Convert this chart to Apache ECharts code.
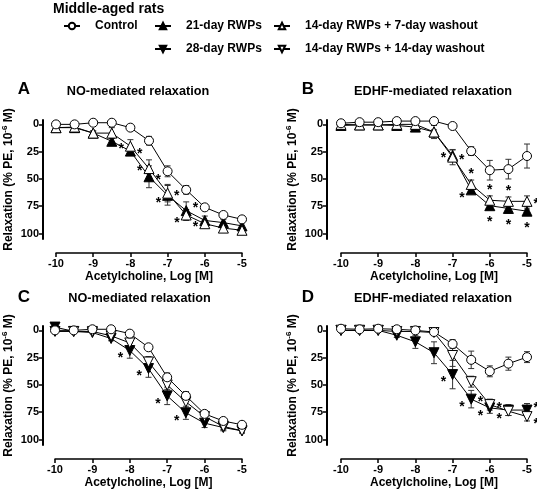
<!DOCTYPE html>
<html><head><meta charset="utf-8">
<script src="https://cdn.jsdelivr.net/npm/echarts@6/dist/echarts.min.js"></script>
<style>html,body{margin:0;padding:0;background:#fff}#c{width:537px;height:493px}</style>
</head><body><div id="c"></div>
<script>
// ---------- DATA ----------
const conc = [-10, -9.5, -9, -8.5, -8, -7.5, -7, -6.5, -6, -5.5, -5];
const yTickValues = [0, 25, 50, 75, 100];

// Panel A: NO-mediated (21-day RWPs, 14-day + 7-day washout)
const A_control     = [0, 0, -1.5, -1.5, 3, 15, 43, 60, 76, 83, 87];
const A_control_err = [1, 1, 1, 1, 2, 4, 5, 4, 2, 2, 2];
const A_d21         = [3, 3, 8, 15.5, 24.5, 48, 65, 79, 88, 90, 93];
const A_d21_err     = [1, 1, 2, 3, 4, 10, 9, 8, 4, 3, 3];
const A_d21_star    = ['', '', '', '', 'r', 'r', 'lb', 'rt', '', '', ''];
const A_w7          = [3, 2.5, 8, 8, 20, 40.5, 63, 83, 91, 95, 97];
const A_w7_err      = [1, 1, 2, 5, 6, 8, 8, 5, 3, 2, 2];
const A_w7_star     = ['', '', '', '', 'l', 'l', 'r', 'lb', 'l', '', ''];

// Panel B: EDHF-mediated (21-day RWPs, 14-day + 7-day washout)
const B_control     = [-1, -2, -2, -3, -3, -3, 1.5, 24.5, 42, 41, 29];
const B_control_err = [1, 1, 1, 1, 1, 1, 2, 4, 9, 9, 11];
const B_d21         = [1, 0.5, 0.5, 1, 2.5, 7, 28.5, 60, 74.5, 77, 79.5];
const B_d21_err     = [1, 1, 1, 1, 1, 2, 5, 3, 3, 2, 2];
const B_d21_star    = ['', '', '', '', '', '', 'l', 'lb', 'b', 'b', 'b'];
const B_w7          = [0, 0.5, 0.5, 0, 0, 7, 30, 55, 69.5, 70.5, 70.5];
const B_w7_err      = [1, 1, 1, 1, 2, 6, 7, 4, 4, 4, 5];
const B_w7_star     = ['', '', '', '', '', '', 'r', 't', 't', 't', 'r'];

// Panel C: NO-mediated (28-day RWPs, 14-day + 14-day washout)
const C_control     = [0, 0, -1, -1, 3, 15.5, 43, 60, 76.5, 83, 86.5];
const C_control_err = [1, 1, 1, 1, 1, 2, 4, 4, 2, 2, 2];
const C_d28         = [-3, 1, 2, 7.5, 18.5, 35, 60, 75.5, 85, 89, 92];
const C_d28_err     = [2, 1, 1, 2, 7, 8, 8, 6, 4, 3, 2];
const C_d28_star    = ['', '', '', '', 'lb', 'lb', 'lb', 'lb', '', '', ''];
const C_w14         = [1, 1, 1, 5, 11.5, 29, 50, 65.5, 79, 88, 92];
const C_w14_err     = [1, 1, 1, 1, 4, 5, 4, 6, 3, 3, 2];
const C_w14_star    = ['', '', '', '', '', '', '', '', '', '', ''];

// Panel D: EDHF-mediated (28-day RWPs, 14-day + 14-day washout)
const D_control     = [-1.5, -1, -1.5, -1, 0, 1.5, 12.5, 27, 37.5, 30.5, 24.5];
const D_control_err = [1, 1, 1, 1, 1, 1, 4, 8, 5, 6, 5];
const D_d28         = [0, 0, 0, 4.5, 10.5, 20.5, 40.5, 63, 71, 73, 73];
const D_d28_err     = [1, 1, 1, 2, 6, 10, 13, 8, 5, 5, 6];
const D_d28_star    = ['', '', '', '', '', '', 'lb', 'lb', 'lb', 'lt', 'rt'];
const D_w14         = [0, 0, 0, 1, 1, 2, 23, 47, 68, 74, 79];
const D_w14_err     = [1, 1, 1, 1, 1, 2, 10, 5, 5, 4, 4];
const D_w14_star    = ['', '', '', '', '', '', '', '', 'lt', 'lb', 'rb'];

const panelLetters = ['A', 'B', 'C', 'D'];
const panelTitles = ['NO-mediated relaxation', 'EDHF-mediated relaxation', 'NO-mediated relaxation', 'EDHF-mediated relaxation'];
const legendTitle = 'Middle-aged rats';
const xName = 'Acetylcholine, Log [M]';

// ---------- STYLE / LAYOUT ----------
const FONT = '"Liberation Sans", Arial, Helvetica, sans-serif';
const SER = {
  'Control':                      { symbol: 'circle',   fill: '#fff', rot: 0,   size: 9 },
  '21-day RWPs':                  { symbol: 'triangle', fill: '#000', rot: 0,   size: 10 },
  '14-day RWPs + 7-day washout':  { symbol: 'triangle', fill: '#fff', rot: 0,   size: 10 },
  '28-day RWPs':                  { symbol: 'triangle', fill: '#000', rot: 180, size: 10 },
  '14-day RWPs + 14-day washout': { symbol: 'triangle', fill: '#fff', rot: 180, size: 10 }
};
const grids = [
  { left: 56,  top: 120, width: 186, height: 119 },
  { left: 341, top: 120, width: 186, height: 119 },
  { left: 55,  top: 326, width: 187, height: 119 },
  { left: 341, top: 326, width: 186, height: 119 }
];
const yOffsets = [13, 14, 12, 14];
const letterPos = [[24, 89], [308, 89], [24, 297], [308, 297]];
const titlePos = [[138, 91], [433, 91], [139.5, 298], [433, 298]];

const panels = [
  [ {name: '21-day RWPs', y: A_d21, err: A_d21_err, star: A_d21_star},
    {name: '14-day RWPs + 7-day washout', y: A_w7, err: A_w7_err, star: A_w7_star},
    {name: 'Control', y: A_control, err: A_control_err, star: null} ],
  [ {name: '21-day RWPs', y: B_d21, err: B_d21_err, star: B_d21_star},
    {name: '14-day RWPs + 7-day washout', y: B_w7, err: B_w7_err, star: B_w7_star},
    {name: 'Control', y: B_control, err: B_control_err, star: null} ],
  [ {name: '28-day RWPs', y: C_d28, err: C_d28_err, star: C_d28_star},
    {name: '14-day RWPs + 14-day washout', y: C_w14, err: C_w14_err, star: C_w14_star},
    {name: 'Control', y: C_control, err: C_control_err, star: null} ],
  [ {name: '28-day RWPs', y: D_d28, err: D_d28_err, star: D_d28_star},
    {name: '14-day RWPs + 14-day washout', y: D_w14, err: D_w14_err, star: D_w14_star},
    {name: 'Control', y: D_control, err: D_control_err, star: null} ]
];

const STAR_POS = {
  l: ['left', 0], lt: ['left', -5], lb: ['left', 5],
  r: ['right', 0], rt: ['right', -5], rb: ['right', 5],
  t: ['top', 0], b: ['bottom', 0]
};
function starLabel(spec) {
  const p = STAR_POS[spec];
  return { show: true, formatter: '*', position: p[0], distance: 1, offset: [0, p[1] + 3],
           fontFamily: FONT, fontWeight: 'bold', fontSize: 14, color: '#000' };
}

const xAxes = [], yAxes = [], series = [], graphics = [];
panels.forEach((pan, i) => {
  xAxes.push({
    type: 'value', gridIndex: i, min: -10, max: -5, interval: 1, offset: 14, position: 'bottom',
    axisLine: { show: true, onZero: false, lineStyle: { color: '#000', width: 1.5 } },
    axisTick: { show: true, length: 4, lineStyle: { color: '#000', width: 1.5 } },
    axisLabel: { fontFamily: FONT, fontWeight: 'bold', fontSize: 11, color: '#000', margin: 5 },
    splitLine: { show: false },
    name: xName, nameLocation: 'middle', nameGap: 18,
    nameTextStyle: { fontFamily: FONT, fontWeight: 'bold', fontSize: 12, color: '#000' }
  });
  yAxes.push({
    type: 'value', gridIndex: i, inverse: true, min: -4, max: 105, offset: yOffsets[i],
    axisLine: { show: true, onZero: false, lineStyle: { color: '#000', width: 2 } },
    axisTick: { show: true, customValues: yTickValues, length: 4, lineStyle: { color: '#000', width: 1.5 } },
    axisLabel: { customValues: yTickValues, fontFamily: FONT, fontWeight: 'bold', fontSize: 11, color: '#000', margin: 4 },
    splitLine: { show: false },
    name: '{n|Relaxation (% PE, 10}{s|-6}{n| M)}', nameLocation: 'middle', nameGap: 26,
    nameTextStyle: {
      fontFamily: FONT, fontWeight: 'bold', color: '#000',
      rich: {
        n: { fontFamily: FONT, fontWeight: 'bold', fontSize: 12, color: '#000', lineHeight: 16 },
        s: { fontFamily: FONT, fontWeight: 'bold', fontSize: 8, color: '#000', lineHeight: 10, verticalAlign: 'top' }
      }
    }
  });
  pan.forEach((s) => {
    const st = SER[s.name];
    series.push({
      type: 'custom', xAxisIndex: i, yAxisIndex: i, z: 1, silent: true, animation: false,
      data: conc.map((x, k) => [x, s.y[k], s.err[k]]),
      renderItem: (params, api) => {
        const x = api.value(0), y = api.value(1), e = api.value(2);
        const t = api.coord([x, y - e]), b = api.coord([x, y + e]);
        const cw = 3, ls = { stroke: '#333', lineWidth: 1 };
        return { type: 'group', children: [
          { type: 'line', shape: { x1: t[0], y1: t[1], x2: b[0], y2: b[1] }, style: ls },
          { type: 'line', shape: { x1: t[0] - cw, y1: t[1], x2: t[0] + cw, y2: t[1] }, style: ls },
          { type: 'line', shape: { x1: b[0] - cw, y1: b[1], x2: b[0] + cw, y2: b[1] }, style: ls }
        ]};
      }
    });
    series.push({
      type: 'line', name: s.name, xAxisIndex: i, yAxisIndex: i,
      z: s.name === 'Control' ? 4 : 3, animation: false, showAllSymbol: true,
      symbol: st.symbol, symbolSize: st.size, symbolRotate: st.rot,
      itemStyle: { color: st.fill, borderColor: '#000', borderWidth: 1 },
      lineStyle: { color: '#000', width: 1 },
      data: conc.map((x, k) => {
        const d = { value: [x, s.y[k]] };
        if (s.star && s.star[k]) d.label = starLabel(s.star[k]);
        return d;
      })
    });
  });
  graphics.push({ type: 'text', x: letterPos[i][0], y: letterPos[i][1],
    style: { text: panelLetters[i], font: 'bold 17px ' + FONT, fill: '#000', textAlign: 'center', textVerticalAlign: 'middle' } });
  graphics.push({ type: 'text', x: titlePos[i][0], y: titlePos[i][1],
    style: { text: panelTitles[i], font: 'bold 12.7px ' + FONT, fill: '#000', textAlign: 'center', textVerticalAlign: 'middle' } });
});
graphics.push({ type: 'text', x: 53, y: 9,
  style: { text: legendTitle, font: 'bold 14px ' + FONT, fill: '#000', textAlign: 'left', textVerticalAlign: 'middle' } });

const legendCommon = {
  orient: 'vertical', itemWidth: 16, itemHeight: 8, itemGap: 11, padding: 0, selectedMode: false,
  textStyle: { fontFamily: FONT, fontWeight: 'bold', fontSize: 12, color: '#000', padding: [0, 0, 0, 10] }
};
const option = {
  backgroundColor: '#fff',
  animation: false,
  grid: grids,
  xAxis: xAxes,
  yAxis: yAxes,
  legend: [
    Object.assign({}, legendCommon, { data: ['Control'], left: 63, top: 20 }),
    Object.assign({}, legendCommon, { data: ['21-day RWPs', '28-day RWPs'], left: 154, top: 20 }),
    Object.assign({}, legendCommon, { data: ['14-day RWPs + 7-day washout', '14-day RWPs + 14-day washout'], left: 273, top: 20 })
  ],
  graphic: graphics,
  series: series
};
const chart = echarts.init(document.getElementById('c'), null, { renderer: 'canvas' });
chart.setOption(option);
</script></body></html>
